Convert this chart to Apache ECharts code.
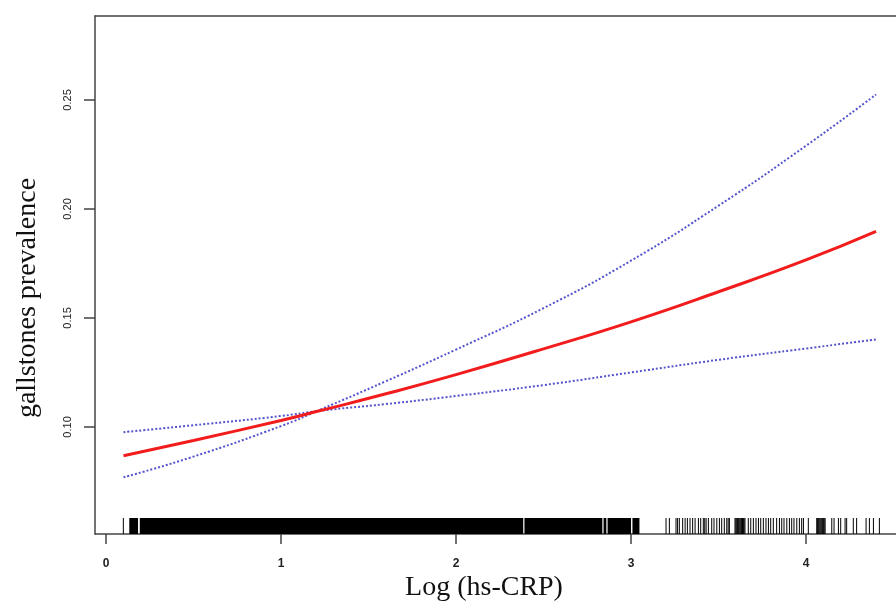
<!DOCTYPE html>
<html>
<head>
<meta charset="utf-8">
<script src="https://cdn.jsdelivr.net/npm/echarts@6/dist/echarts.min.js"></script>
<style>html,body{margin:0;padding:0;background:#fff}#c{width:896px;height:604px}</style>
</head>
<body>
<div id="c"></div>
<script>
// ---- data ----
var xVals      = [0.1, 0.5, 1.0, 1.22, 1.6, 2.0, 2.5, 3.0, 3.5, 4.0, 4.4];
var fitVals    = [0.0868, 0.0938, 0.1030, 0.1074, 0.1152, 0.1240, 0.1358, 0.1482, 0.1620, 0.1766, 0.1897];
var ciSteep    = [0.0769, 0.0864, 0.1004, 0.1078, 0.1210, 0.1355, 0.1545, 0.1763, 0.2015, 0.2290, 0.2525];
var ciFlat     = [0.0976, 0.1008, 0.1050, 0.1074, 0.1105, 0.1142, 0.1192, 0.1250, 0.1308, 0.1360, 0.1401];
var xTicks     = [0, 1, 2, 3, 4];
var yTicks     = [0.10, 0.15, 0.20, 0.25];
// rug: dense stretches read as solid blocks [from, to], plus individual ticks
var rugBlocks  = [[0.133, 0.183], [0.193, 2.384], [2.391, 2.836], [2.843, 2.859], [2.866, 3.000], [3.008, 3.048]];
var rugTicks   = [0.099, 3.200, 3.219, 3.257, 3.266, 3.276, 3.295, 3.309, 3.322, 3.337, 3.352, 3.366, 3.385, 3.398,
                  3.413, 3.421, 3.429, 3.442, 3.461, 3.474, 3.490, 3.505, 3.518, 3.533, 3.547, 3.555, 3.562,
                  3.594, 3.599, 3.604, 3.609, 3.613, 3.618, 3.623, 3.628, 3.632, 3.637, 3.642, 3.646, 3.651,
                  3.670, 3.684, 3.699, 3.714, 3.728, 3.741, 3.756, 3.771, 3.785, 3.798, 3.813, 3.832, 3.848,
                  3.861, 3.874, 3.890, 3.905, 3.918, 3.931, 3.947, 3.962, 3.975, 3.985, 4.013,
                  4.061, 4.066, 4.070, 4.075, 4.080, 4.085, 4.090, 4.095, 4.099, 4.104, 4.109,
                  4.147, 4.160, 4.185, 4.198, 4.223, 4.232, 4.270, 4.289, 4.343, 4.362, 4.385, 4.419];
var xTitle = 'Log (hs-CRP)';
var yTitle = 'gallstones prevalence';

var X_MIN = -0.0629, X_MAX = 4.514;
var Y_MIN = 0.0509, Y_MAX = 0.2885;

function pairs(xs, ys) { return xs.map(function (x, i) { return [x, ys[i]]; }); }
var rugData = rugBlocks.map(function (b) { return [b[0], b[1]]; })
  .concat(rugTicks.map(function (t) { return [t, t]; }));

var chart = echarts.init(document.getElementById('c'), null, { renderer: 'canvas' });
var frameColor = '#444';
chart.setOption({
  animation: false,
  backgroundColor: '#fff',
  grid: { left: 95, top: 16, right: 0, bottom: 70, containLabel: false },
  xAxis: [{
    type: 'value', min: X_MIN, max: X_MAX, position: 'bottom',
    axisLine: { show: true, onZero: false, lineStyle: { color: frameColor, width: 1.5 } },
    axisTick: { show: true, length: 10, customValues: xTicks, lineStyle: { color: frameColor, width: 1.5 } },
    axisLabel: { show: true, customValues: xTicks, margin: 24, fontSize: 12, fontWeight: 'bold',
                 color: '#222', fontFamily: 'Liberation Sans' },
    splitLine: { show: false }
  }, {
    type: 'value', min: X_MIN, max: X_MAX, position: 'top',
    axisLine: { show: true, onZero: false, lineStyle: { color: frameColor, width: 1.5 } },
    axisTick: { show: false }, axisLabel: { show: false }, splitLine: { show: false }
  }],
  yAxis: {
    type: 'value', min: Y_MIN, max: Y_MAX,
    axisLine: { show: true, onZero: false, lineStyle: { color: frameColor, width: 1.5 } },
    axisTick: { show: true, length: 11, customValues: yTicks, lineStyle: { color: frameColor, width: 1.5 } },
    axisLabel: { show: true, customValues: yTicks, rotate: 90, margin: 22, fontSize: 11,
                 color: '#222', fontFamily: 'Liberation Sans',
                 formatter: function (v) { return v.toFixed(2); } },
    splitLine: { show: false }
  },
  graphic: [
    { type: 'text', position: [484, 588], style: { text: xTitle, font: '28px "Liberation Serif"', fill: '#111',
      textAlign: 'center', textVerticalAlign: 'middle' } },
    { type: 'text', position: [28, 298], rotation: Math.PI / 2, style: { text: yTitle, font: '28px "Liberation Serif"', fill: '#111',
      textAlign: 'center', textVerticalAlign: 'middle' } }
  ],
  series: [
    {
      type: 'custom', name: 'rug', xAxisIndex: 0, clip: false, data: rugData,
      renderItem: function (params, api) {
        var p0 = api.coord([api.value(0), Y_MIN]);
        var p1 = api.coord([api.value(1), Y_MIN]);
        var w = Math.max(1, p1[0] - p0[0]);
        var x0 = p1[0] - p0[0] < 1 ? p0[0] - 0.5 : p0[0];
        return { type: 'rect', shape: { x: x0, y: p0[1] - 16, width: w, height: 16 },
                 style: { fill: '#000' } };
      }
    },
    { type: 'line', name: 'ciFlat', data: pairs(xVals, ciFlat), smooth: true, showSymbol: false,
      lineStyle: { color: '#5454cc', width: 2, type: [2, 2] } },
    { type: 'line', name: 'ciSteep', data: pairs(xVals, ciSteep), smooth: true, showSymbol: false,
      lineStyle: { color: '#5454cc', width: 2, type: [2, 2] } },
    { type: 'line', name: 'fit', data: pairs(xVals, fitVals), smooth: true, showSymbol: false,
      lineStyle: { color: '#f21c1c', width: 3 } }
  ]
});
</script>
</body>
</html>
